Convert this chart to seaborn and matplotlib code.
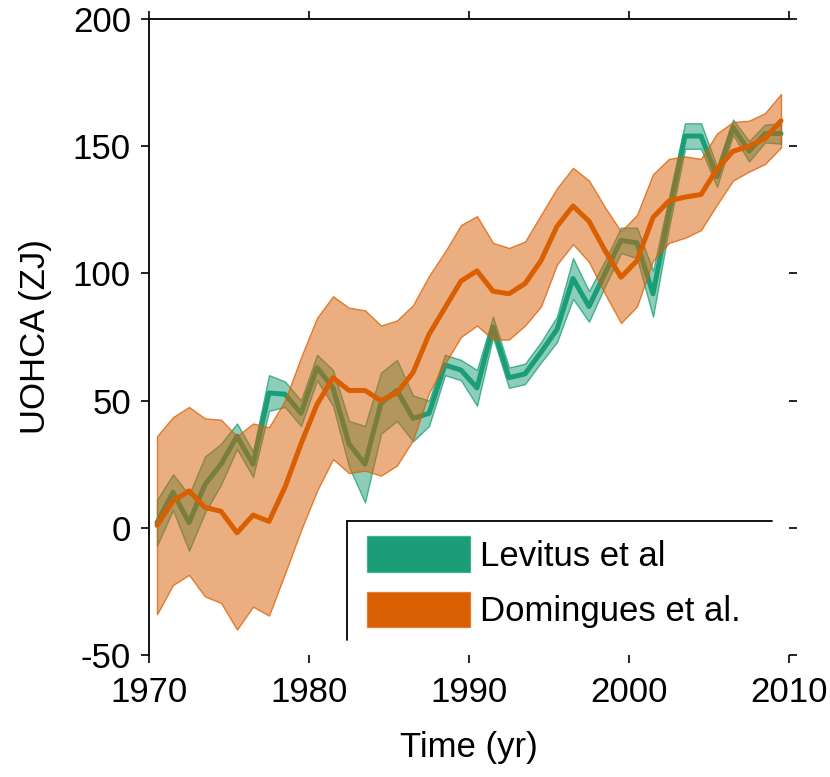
import numpy as np
import pandas as pd
import seaborn as sns
import matplotlib
matplotlib.use("Agg")
import matplotlib.pyplot as plt
from matplotlib.patches import Patch
from matplotlib.lines import Line2D

# Annual mid-year values of upper-ocean heat content anomaly (ZJ)
years = np.arange(1970.5, 2010.0, 1.0)

levitus = [2, 14, 2, 17, 25, 36, 25, 53, 52.5, 45,
           63, 55, 33, 25, 49, 54, 43, 45, 64, 62,
           55, 79, 59, 60.5, 69, 78, 98, 87, 100, 113,
           112, 92, 124, 154, 154, 138, 157.5, 148, 155, 155]
levitus_err = [9, 7, 11, 11, 8, 5, 5, 7, 5, 5,
               5, 7, 9, 15, 12, 12, 9, 5, 4, 4,
               7, 4, 4, 4, 4, 5, 8, 6, 5, 5,
               6, 9, 6, 5, 5, 4, 3, 4, 3.5, 4]

domingues = [1, 10.5, 14.5, 8, 6.5, -2, 5, 2.5, 16, 33,
             48.5, 59, 54, 54, 50, 53, 61, 76, 86.5, 97,
             101, 93, 92, 96, 105, 118.5, 126.5, 120.5, 109, 98.5,
             105, 122, 128.5, 130, 131, 141, 148, 150, 153, 160]
domingues_err = [35, 33, 33, 35, 36, 38, 36, 37, 34, 34,
                 34, 32, 32.5, 31.5, 29.5, 28.5, 26.5, 23, 22, 22,
                 21.5, 19, 18, 16.5, 18, 15, 15, 16, 17, 18,
                 18, 17, 16.5, 16, 14, 14, 11.5, 10, 10, 10.5]

series_names = ["Levitus et al", "Domingues et al."]
colors = ["#1b9e77", "#d95f02"]

df = pd.concat([
    pd.DataFrame({"year": years, "value": levitus, "err": levitus_err,
                  "source": series_names[0]}),
    pd.DataFrame({"year": years, "value": domingues, "err": domingues_err,
                  "source": series_names[1]}),
], ignore_index=True)

sns.set_theme(style="white")
plt.rcParams["font.family"] = ["Liberation Sans", "DejaVu Sans"]
plt.rcParams["axes.unicode_minus"] = False
plt.rcParams["text.color"] = "black"

fig = plt.figure(figsize=(8.3, 7.77), dpi=100)
ax = fig.add_axes([149 / 830, 1 - 655 / 777, 640 / 830, 636 / 777])

# each series: band then line, later series layered on top of earlier ones
for k, (name, col) in enumerate(zip(series_names, colors)):
    sub = df[df["source"] == name]
    lo = sub["value"] - sub["err"]
    hi = sub["value"] + sub["err"]
    ax.fill_between(sub["year"], lo, hi, facecolor=matplotlib.colors.to_rgba(col, 0.5),
                    edgecolor=matplotlib.colors.to_rgba(col, 0.75), linewidth=1.0,
                    zorder=2 * k + 1)
    sns.lineplot(data=sub, x="year", y="value", color=col, linewidth=3.6,
                 ax=ax, legend=False, errorbar=None, zorder=2 * k + 2)

ax.set_xlim(1970, 2010)
ax.set_ylim(-50, 200)
ax.set_xticks([1970, 1980, 1990, 2000, 2010])
ax.set_yticks([-50, 0, 50, 100, 150, 200])

for side in ["left", "top"]:
    ax.spines[side].set_visible(True)
    ax.spines[side].set_color("black")
    ax.spines[side].set_linewidth(1.3)
for side in ["right", "bottom"]:
    ax.spines[side].set_visible(False)

ax.tick_params(axis="both", which="major", direction="out", length=6, width=1.2,
               color="black", labelsize=25, labelcolor="black",
               top=True, right=True, bottom=True, left=True)
ax.tick_params(axis="x", pad=9)
ax.tick_params(axis="y", pad=7)

ax.set_xlabel("Time (yr)", fontsize=25, color="black", labelpad=16)
ax.set_ylabel("UOHCA (ZJ)", fontsize=25, color="black", labelpad=15)

handles = [Patch(facecolor=c, edgecolor=matplotlib.colors.to_rgba(c, 0.6), linewidth=1)
           for c in colors]
leg = ax.legend(handles, series_names, loc="upper left", bbox_to_anchor=(0.341, 0.187),
                frameon=False, fontsize=25, handlelength=2.95, handleheight=1.2,
                handletextpad=0.3, labelspacing=0.55, borderpad=0, borderaxespad=0)
for t in leg.get_texts():
    t.set_color("black")
leg.set_zorder(10)

# open legend frame: top and left edges only
fx0, fx1, fy0, fy1 = 0.309, 0.973, 0.024, 0.211
ax.add_line(Line2D([fx0, fx1], [fy1, fy1], transform=ax.transAxes, color="black",
                   linewidth=1.3, clip_on=False, zorder=10))
ax.add_line(Line2D([fx0, fx0], [fy0, fy1], transform=ax.transAxes, color="black",
                   linewidth=1.3, clip_on=False, zorder=10))

fig.savefig("out.png", dpi=100)
